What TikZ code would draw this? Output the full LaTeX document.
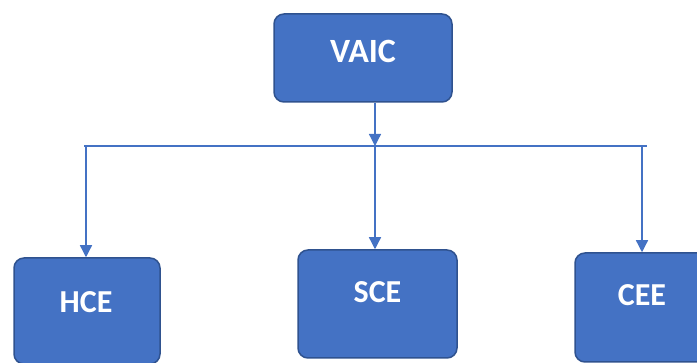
\documentclass[tikz,border=0pt]{standalone}
\usepackage{fontspec}
\setmainfont{Carlito}
\usetikzlibrary{arrows.meta}
\definecolor{boxfill}{HTML}{4472C4}
\definecolor{boxedge}{HTML}{2F528F}
\definecolor{linkblue}{HTML}{4472C4}
\begin{document}
\begin{tikzpicture}[x=1pt,y=-1pt,
  unit/.style={draw=boxedge,line width=1.5pt,fill=boxfill,rounded corners=10pt,inner sep=0pt},
  label/.style={text=white,font=\bfseries\fontsize{32}{36}\selectfont,inner sep=0pt},
  link/.style={draw=linkblue,line width=1.3pt},
  tip/.style={-{Triangle[width=12pt,length=12pt]}}]
\useasboundingbox (0,0) rectangle (697,363);
% boxes with their captions
\node[unit,minimum width=178pt,minimum height=88pt] (vaic) at (363,58) {};
\node[label,font=\bfseries\fontsize{34}{38}\selectfont] (vaict) at (363,51) {VAIC};
\node[unit,minimum width=146pt,minimum height=106pt] (hce) at (87,311) {};
\node[label] (hcet) at (86,302) {HCE};
\node[unit,minimum width=159pt,minimum height=108pt] (sce) at (377.5,304) {};
\node[label] (scet) at (377.5,292) {SCE};
\node[unit,minimum width=134pt,minimum height=109pt] (cee) at (642,307.5) {};
\node[label] (ceet) at (642,295) {CEE};
% bus line and drops
\coordinate (bus) at (375,146);
\coordinate (busl) at (86,146);
\coordinate (busr) at (647,146);
\coordinate (busl0) at (84,146);
\coordinate (dropc) at (642,146);
\draw[link,tip] (vaic.south -| bus) -- (bus);
\draw[link] (busl0) -- (busr);
\draw[link,tip] (busl) -- (busl |- hce.north);
\draw[link,tip] (bus) -- (bus |- sce.north);
\draw[link,tip] (dropc) -- (cee.north);
\end{tikzpicture}
\end{document}
